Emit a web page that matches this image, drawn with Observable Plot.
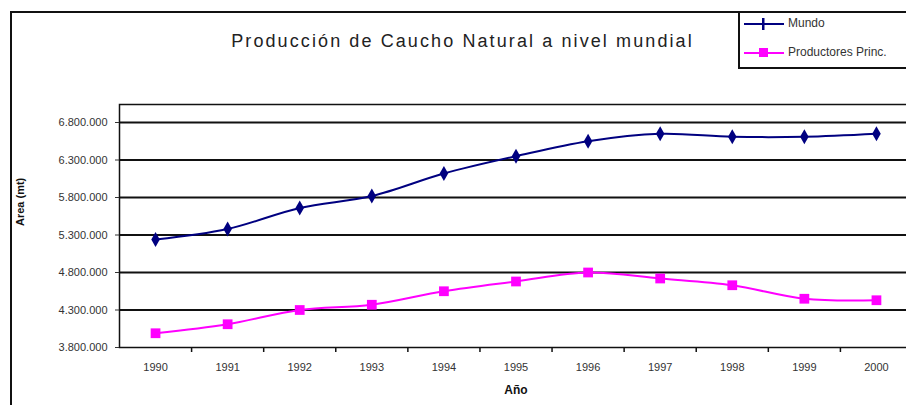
<!DOCTYPE html>
<html>
<head>
<meta charset="utf-8">
<script src="https://cdn.jsdelivr.net/npm/d3@7"></script>
<script src="https://cdn.jsdelivr.net/npm/@observablehq/plot@0.6"></script>
<style>
  html, body { margin: 0; padding: 0; background: #fff; }
  #wrap { position: relative; width: 906px; height: 405px; overflow: hidden; font-family: "Liberation Sans", Arial, sans-serif; }
  #border { position: absolute; left: 10px; top: 11px; width: 920px; height: 420px; border: 2px solid #111; box-sizing: border-box; }
  #title { position: absolute; left: 0; width: 925px; top: 31px; text-align: center; font-size: 18px; color: #222; letter-spacing: 2.1px; }
  #legend { position: absolute; left: 738px; top: 11px; width: 200px; height: 58px; border: 2px solid #111; box-sizing: border-box; background: #fff; font-size: 12px; color: #333; }
  .li { position: absolute; left: 4px; height: 16px; }
  .li svg { position: absolute; left: 0; top: 0; }
  .li span { position: absolute; left: 44px; top: 0px; white-space: nowrap; }
  #plot { position: absolute; left: 0; top: 0; }
</style>
</head>
<body>
<div id="wrap">
  <div id="border"></div>
  <div id="plot"></div>
  <div id="title">Producción de Caucho Natural a nivel mundial</div>
  <div id="legend"></div>
</div>
<script>
const years = [1990, 1991, 1992, 1993, 1994, 1995, 1996, 1997, 1998, 1999, 2000];
const mundo = [5240000, 5380000, 5660000, 5820000, 6120000, 6350000, 6550000, 6650000, 6610000, 6610000, 6650000];
const productores = [3990000, 4110000, 4300000, 4370000, 4550000, 4680000, 4800000, 4720000, 4630000, 4450000, 4430000];
const yTicks = [3800000, 4300000, 4800000, 5300000, 5800000, 6300000, 6800000];
const seriesNames = ["Mundo", "Productores Princ."];
const seriesColors = ["#000080", "#FF00FF"];

const fmt = d => d3.format(",")(d).replace(/,/g, ".");
const dataM = years.map((y, i) => ({year: y, value: mundo[i]}));
const dataP = years.map((y, i) => ({year: y, value: productores[i]}));
const bounds = years.map(y => y + 0.5);

const chart = Plot.plot({
  width: 906,
  height: 405,
  marginLeft: 119,
  marginTop: 104,
  marginBottom: 58,
  marginRight: -6,
  style: {fontFamily: "'Liberation Sans', Arial, sans-serif", fontSize: "11px", color: "#333", background: "transparent", overflow: "visible"},
  x: {domain: [1989.5, 2000.5]},
  y: {domain: [3800000, 7040000]},
  marks: [
    Plot.ruleY(yTicks.slice(1), {stroke: "#111", strokeWidth: 2}),
    Plot.frame({stroke: "#111", strokeWidth: 1.5}),
    Plot.axisX({ticks: years, tickFormat: d => String(d), tickSize: 0, tickPadding: 16, label: null, fontSize: 11}),
    Plot.axisX({ticks: bounds, tickFormat: () => "", tickSize: 5, stroke: "#111", strokeWidth: 1.5, label: null}),
    Plot.text(["Año"], {frameAnchor: "bottom", dy: 46, fontWeight: "bold", fontSize: 12, fill: "#111"}),
    Plot.axisY({ticks: yTicks, tickFormat: fmt, tickSize: 4, tickPadding: 8, label: null, fontSize: 11}),
    Plot.text(["Area (mt)"], {frameAnchor: "left", dx: -99, rotate: -90, fontWeight: "bold", fontSize: 11, fill: "#111"}),
    Plot.line(dataM, {x: "year", y: "value", stroke: seriesColors[0], strokeWidth: 2, curve: "catmull-rom"}),
    Plot.dot(dataM, {x: "year", y: "value", symbol: "diamond", r: 4.5, fill: seriesColors[0], stroke: "none"}),
    Plot.line(dataP, {x: "year", y: "value", stroke: seriesColors[1], strokeWidth: 2, curve: "catmull-rom"}),
    Plot.dot(dataP, {x: "year", y: "value", symbol: "square", r: 5.5, fill: seriesColors[1], stroke: "none"})
  ]
});
document.getElementById("plot").appendChild(chart);

// legend
const leg = document.getElementById("legend");
seriesNames.forEach((name, i) => {
  const div = document.createElement("div");
  div.className = "li";
  div.style.top = (i === 0 ? 3 : 32) + "px";
  const marker = i === 0
    ? `<rect x="18" y="2" width="2.5" height="12" fill="${seriesColors[0]}"/>`
    : `<rect x="15" y="3" width="9" height="9" fill="${seriesColors[1]}"/>`;
  div.innerHTML = `<svg width="42" height="16"><line x1="0" x2="40" y1="8" y2="8" stroke="${seriesColors[i]}" stroke-width="2"/>${marker}</svg><span>${name}</span>`;
  leg.appendChild(div);
});
</script>
</body>
</html>
